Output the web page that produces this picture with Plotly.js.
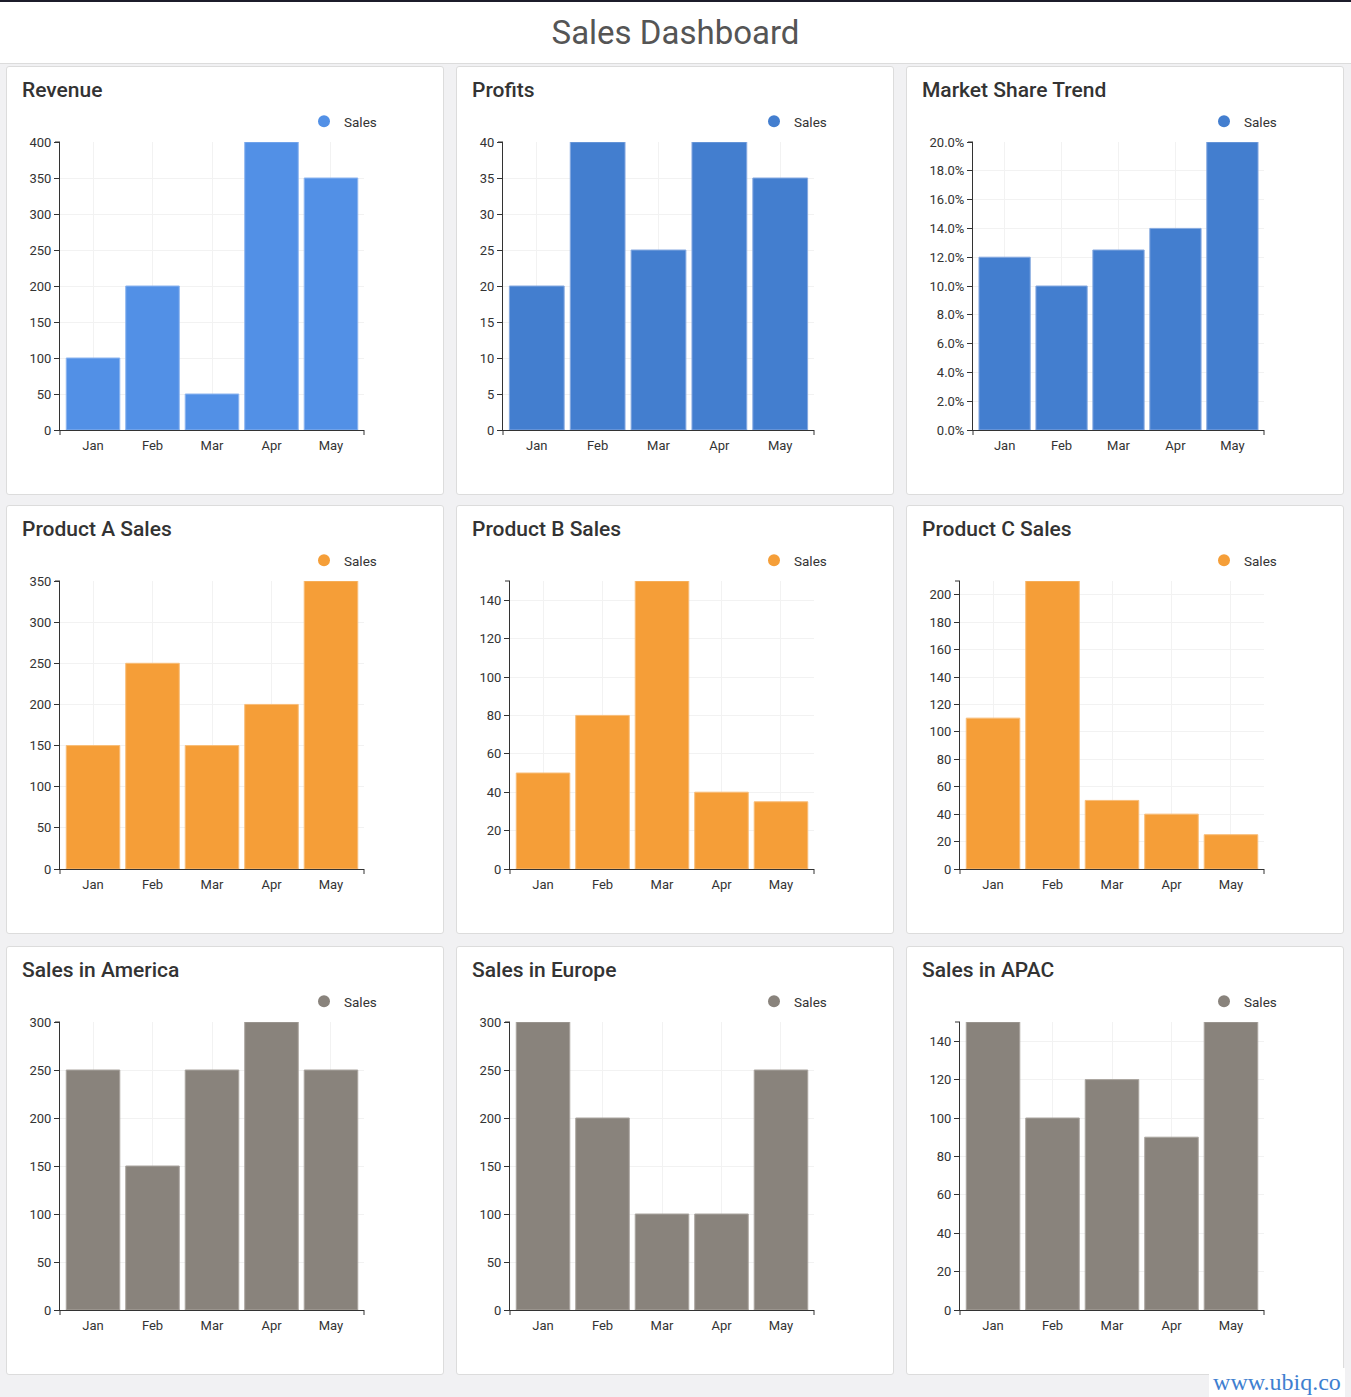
<!DOCTYPE html>
<html>
<head>
<meta charset="utf-8">
<script src="https://cdn.plot.ly/plotly-3.0.1.min.js"></script>
<style>
  html, body { margin: 0; padding: 0; }
  body { width: 1351px; height: 1397px; position: relative; background: #f1f1f3; overflow: hidden; font-family: Roboto, sans-serif; }
  #header { position: absolute; left: 0; top: 0; width: 1351px; height: 64px; background: #fff; border-top: 2px solid #1c1c2a; border-bottom: 1px solid #dcdcdc; box-sizing: border-box; }
  #header h1 { margin: 0; position: absolute; left: 0; right: 0; top: 11px; text-align: center; font-family: Roboto, sans-serif; font-weight: 400; font-size: 33px; color: #555; line-height: 40px; }
  .panel { position: absolute; width: 438px; height: 429px; background: #fff; border: 1px solid #dcdcdc; border-radius: 3px; box-sizing: border-box; }
  .chart { position: absolute; width: 438px; height: 429px; }
  #wm { position: absolute; left: 1209px; top: 1368px; width: 136px; height: 29px; background: #fff; font-family: 'Liberation Serif', 'DejaVu Serif', serif; font-size: 24px; line-height: 29px; color: #3f7fd0; text-align: center; }
</style>
</head>
<body>
<div id="header"><h1>Sales Dashboard</h1></div>
<div id="grid"></div>
<div id="wm">www.ubiq.co</div>
<script>
// ---- data ----
const months = ['Jan', 'Feb', 'Mar', 'Apr', 'May'];
const revenue = [100, 200, 50, 400, 350];
const profits = [20, 40, 25, 40, 35];
const marketShare = [0.12, 0.10, 0.125, 0.14, 0.20];
const productA = [150, 250, 150, 200, 350];
const productB = [50, 80, 150, 40, 35];
const productC = [110, 210, 50, 40, 25];
const salesAmerica = [250, 150, 250, 300, 250];
const salesEurope = [300, 200, 100, 100, 250];
const salesAPAC = [150, 100, 120, 90, 150];
const seriesName = 'Sales';

// ---- styles ----
const BLUE1 = '#5290e6', BLUE2 = '#437ecf', ORANGE = '#f59e38', GREY = '#89837c';
const panels = [
  { title: 'Revenue', y: revenue, color: BLUE1, line: '#8db5ef', range: [0, 400], dtick: 50, fmt: '', ml: 54 },
  { title: 'Profits', y: profits, color: BLUE2, line: '#86a9e0', range: [0, 40], dtick: 5, fmt: '', ml: 47 },
  { title: 'Market Share Trend', y: marketShare, color: BLUE2, line: '#86a9e0', range: [0, 0.2], dtick: 0.02, fmt: '.1%', ml: 67 },
  { title: 'Product A Sales', y: productA, color: ORANGE, line: '#f8bd78', range: [0, 350], dtick: 50, fmt: '', ml: 54 },
  { title: 'Product B Sales', y: productB, color: ORANGE, line: '#f8bd78', range: [0, 150], dtick: 20, fmt: '', ml: 54 },
  { title: 'Product C Sales', y: productC, color: ORANGE, line: '#f8bd78', range: [0, 210], dtick: 20, fmt: '', ml: 54 },
  { title: 'Sales in America', y: salesAmerica, color: GREY, line: '#aaa59f', range: [0, 300], dtick: 50, fmt: '', ml: 54 },
  { title: 'Sales in Europe', y: salesEurope, color: GREY, line: '#aaa59f', range: [0, 300], dtick: 50, fmt: '', ml: 54 },
  { title: 'Sales in APAC', y: salesAPAC, color: GREY, line: '#aaa59f', range: [0, 150], dtick: 20, fmt: '', ml: 54 }
];
const colX = [6, 456, 906];
const rowY = [66, 505, 946];
const W = 438, H = 429;
const FONT = 'Roboto, "Open Sans", sans-serif';
const grid = document.getElementById('grid');

panels.forEach((p, i) => {
  const left = colX[i % 3], top = rowY[Math.floor(i / 3)];
  const bg = document.createElement('div');
  bg.className = 'panel';
  bg.style.left = left + 'px'; bg.style.top = top + 'px';
  grid.appendChild(bg);
  const div = document.createElement('div');
  div.className = 'chart';
  div.style.left = left + 'px'; div.style.top = top + 'px';
  grid.appendChild(div);

  const axisTick = (xr, x0, x1, yr, y0, y1, xs, ys) => Object.assign({
    type: 'line', xref: xr, yref: yr, x0: x0, x1: x1, y0: y0, y1: y1,
    line: { color: '#333', width: 1 }, layer: 'above'
  }, xs || {}, ys || {});

  const traces = [
    { type: 'bar', x: months, y: p.y, name: seriesName, showlegend: false,
      marker: { color: p.color, line: { color: p.line, width: 1 } },
      hoverinfo: 'x+y' },
    { type: 'scatter', mode: 'markers', x: [null], y: [null], name: seriesName,
      marker: { color: p.color, size: 12, symbol: 'circle' }, showlegend: true, hoverinfo: 'skip' }
  ];
  const layout = {
    width: W, height: H,
    paper_bgcolor: 'rgba(0,0,0,0)', plot_bgcolor: 'rgba(0,0,0,0)',
    margin: { l: p.ml, r: 80, t: 76, b: 65, pad: 0 },
    font: { family: FONT, size: 13, color: '#333' },
    title: { text: p.title, font: { family: FONT, size: 21, color: '#333', weight: 500 },
      xref: 'container', yref: 'container', x: 16 / W, xanchor: 'left', y: 1 - 24 / H, yanchor: 'middle' },
    bargap: 0.1,
    showlegend: true,
    legend: { xref: 'container', yref: 'container', x: 298 / W, xanchor: 'left', y: 1 - 40 / H, yanchor: 'top',
      orientation: 'h', font: { family: FONT, size: 13.5, color: '#333' }, itemwidth: 30, bgcolor: 'rgba(0,0,0,0)' },
    xaxis: { type: 'category', range: [-0.555, 4.555], showline: true, linecolor: '#333', linewidth: 1,
      showgrid: true, gridcolor: '#f2f2f2', gridwidth: 1, ticks: '', zeroline: false, fixedrange: true,
      ticklabelstandoff: 3,
      tickfont: { family: FONT, size: 13, color: '#333' } },
    yaxis: { range: p.range, dtick: p.dtick, tick0: 0, tickformat: p.fmt, showline: true, linecolor: '#333', linewidth: 1,
      ticks: 'outside', ticklen: 5, tickcolor: '#333', tickwidth: 1, showgrid: true, gridcolor: '#f2f2f2', gridwidth: 1,
      zeroline: false, fixedrange: true, tickfont: { family: FONT, size: 13, color: '#333' } },
    shapes: [
      axisTick('x domain', 0, 0, 'y domain', 0, -5, null, { ysizemode: 'pixel', yanchor: 0 }),
      axisTick('x domain', 1, 1, 'y domain', 0, -5, null, { ysizemode: 'pixel', yanchor: 0 }),
      axisTick('x domain', -5, 0, 'y domain', 1, 1, { xsizemode: 'pixel', xanchor: 0 }, null)
    ]
  };
  Plotly.newPlot(div, traces, layout, { displayModeBar: false, staticPlot: false });
});
</script>
</body>
</html>
